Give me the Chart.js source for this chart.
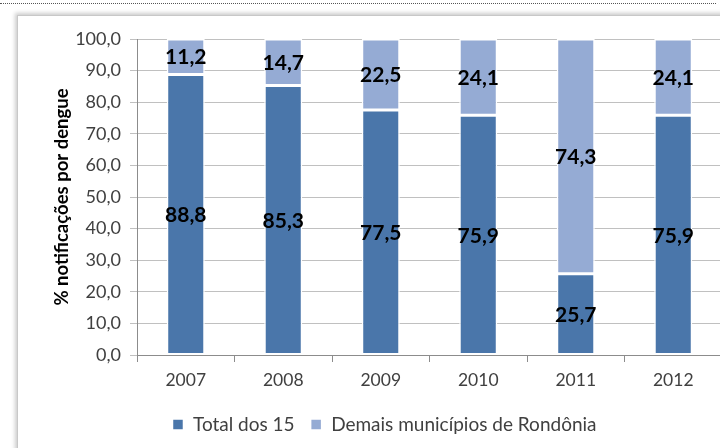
<!DOCTYPE html>
<html>
<head>
<meta charset="utf-8">
<script src="https://cdn.jsdelivr.net/npm/chart.js@4/dist/chart.umd.min.js"></script>
<style>
  html, body { margin: 0; padding: 0; background: #fff; width: 720px; height: 448px; overflow: hidden; }
  .dots { position: absolute; left: 0; top: 3px; width: 716px; border-top: 1px dotted #555; }
  .box { position: absolute; left: 17px; top: 15px; width: 760px; height: 480px; border: 1px solid #c8c8c8;
         box-shadow: -2px -2px 4px rgba(0,0,0,0.2); background: #fff; }
  .wrap { position: absolute; left: 0; top: 0; width: 730px; height: 448px; }
</style>
</head>
<body>
<div class="dots"></div>
<div class="box"></div>
<div class="wrap"><canvas id="c" width="730" height="448"></canvas></div>
<script>
const anos = ["2007", "2008", "2009", "2010", "2011", "2012"];
const total15 = [88.8, 85.3, 77.5, 75.9, 25.7, 75.9];
const demais = [11.2, 14.7, 22.5, 24.1, 74.3, 24.1];
const nomes = ["Total dos 15", "Demais municípios de Rondônia"];

const FONT = "Lato, 'Open Sans', sans-serif";
const fmt = v => v.toFixed(1).replace(".", ",");

// rótulos no centro de cada segmento
const rotulos = {
  id: "rotulos",
  afterDatasetsDraw(chart) {
    const ctx = chart.ctx;
    ctx.save();
    ctx.font = "bold 21px " + FONT;
    ctx.fillStyle = "#000";
    ctx.textAlign = "center";
    ctx.textBaseline = "middle";
    chart.data.datasets.forEach((ds, i) => {
      chart.getDatasetMeta(i).data.forEach((bar, j) => {
        const p = bar.getProps(["x", "y", "base"], true);
        ctx.fillText(fmt(ds.data[j]), p.x, (p.y + p.base) / 2 + 1);
      });
    });
    ctx.restore();
  }
};

new Chart(document.getElementById("c"), {
  type: "bar",
  data: {
    labels: anos,
    datasets: [
      { label: nomes[0], data: total15, backgroundColor: "#4a76aa", borderColor: "#fff", borderWidth: 1.5, borderSkipped: false },
      { label: nomes[1], data: demais, backgroundColor: "#95abd4", borderColor: "#fff", borderWidth: 1.5, borderSkipped: false }
    ]
  },
  options: {
    responsive: false,
    animation: false,
    layout: { padding: { top: 39, right: 8, left: 47, bottom: 4 } },
    datasets: { bar: { categoryPercentage: 1, barPercentage: 0.39 } },
    plugins: {
      tooltip: { enabled: false },
      legend: {
        position: "bottom",
        labels: { boxWidth: 11, boxHeight: 11, padding: 16, color: "#404040", font: { family: FONT, size: 19 } }
      }
    },
    scales: {
      x: {
        stacked: true,
        grid: { display: true, drawOnChartArea: false, offset: true, tickLength: 7, color: "#8c8c8c" },
        border: { color: "#8c8c8c" },
        ticks: { color: "#404040", padding: 8, font: { family: FONT, size: 17.5 } }
      },
      y: {
        stacked: true,
        min: 0, max: 100,
        afterFit: s => { s.width = 90; },
        ticks: { stepSize: 10, callback: v => fmt(v), color: "#404040", padding: 9, font: { family: FONT, size: 18 } },
        grid: { color: "#c0c0c0", tickLength: 7 },
        border: { color: "#8c8c8c" },
        title: { display: true, text: "% notificações por dengue", color: "#000", font: { family: FONT, size: 18.5, weight: "bold" } }
      }
    }
  },
  plugins: [rotulos]
});
</script>
</body>
</html>
